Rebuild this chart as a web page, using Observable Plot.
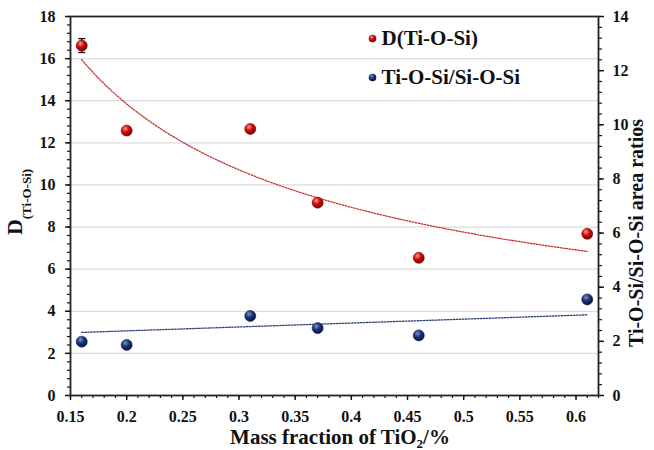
<!DOCTYPE html>
<html>
<head>
<meta charset="utf-8">
<script src="https://cdn.jsdelivr.net/npm/d3@7"></script>
<script src="https://cdn.jsdelivr.net/npm/@observablehq/plot@0.6"></script>
<style>
  html, body { margin: 0; padding: 0; background: #fff; }
  #chart { width: 654px; height: 450px; }
  #chart svg text, #chart svg tspan { font-family: 'Liberation Serif', 'Times New Roman', serif !important; font-weight: bold !important; }
</style>
</head>
<body>
<div id="chart"></div>
<script>
// ---- data ----
const massFraction = [0.16, 0.2, 0.31, 0.37, 0.46, 0.61];
const dTiOSi = [16.62, 12.58, 12.66, 9.16, 6.54, 7.68];
const dTiOSiErr = [0.33, 0, 0, 0, 0, 0];
const areaRatio = [1.99, 1.87, 2.94, 2.49, 2.22, 3.55];
const ratioTrendX = [0.16, 0.61];
const ratioTrendY = [2.33, 2.98];
const xTicks = [0.15, 0.2, 0.25, 0.3, 0.35, 0.4, 0.45, 0.5, 0.55, 0.6];
const leftTicks = [0, 2, 4, 6, 8, 10, 12, 14, 16, 18];
const rightTicks = [0, 2, 4, 6, 8, 10, 12, 14];
const seriesNames = ["D(Ti-O-Si)", "Ti-O-Si/Si-O-Si"];

const LEFT_MAX = 18, RIGHT_MAX = 14;
const toLeft = v => v * LEFT_MAX / RIGHT_MAX;

const dRows = massFraction.map((x, i) => ({x, y: dTiOSi[i], e: dTiOSiErr[i]}));
const rRows = massFraction.map((x, i) => ({x, y: toLeft(areaRatio[i])}));
const errRows = dRows.filter(d => d.e > 0);

// power-law trendline (least squares on log-log) fitted to D data
const lx = massFraction.map(Math.log), ly = dTiOSi.map(Math.log);
const mx = d3.mean(lx), my = d3.mean(ly);
const b = d3.sum(lx.map((v, i) => (v - mx) * (ly[i] - my))) / d3.sum(lx.map(v => (v - mx) ** 2));
const a = Math.exp(my - b * mx);
const xMin = d3.min(massFraction), xMax = d3.max(massFraction);
const dTrend = d3.range(0, 81).map(i => {
  const x = xMin + (xMax - xMin) * i / 80;
  return {x, y: a * Math.pow(x, b)};
});
const rTrend = ratioTrendX.map((x, i) => ({x, y: toLeft(ratioTrendY[i])}));

const xMinor = d3.range(15, 63).map(i => i / 100);
const yMinor = d3.range(0, 46).map(i => i * 0.4);
const rMinor = d3.range(0, 36).map(i => toLeft(i * 0.4));

const capSymbol = {draw(ctx) { ctx.moveTo(-3.5, 0); ctx.lineTo(3.5, 0); }};
const font = "Liberation Serif";
const tf = {fontFamily: font, fontWeight: "bold", fontSize: 16, fill: "#111"};

const chart = Plot.plot({
  width: 654,
  height: 450,
  marginLeft: 70,
  marginRight: 56,
  marginTop: 16,
  marginBottom: 55,
  style: {fontFamily: font, fontWeight: "bold", fontSize: "16px", color: "#111", background: "#fff"},
  x: {domain: [0.15, 0.62]},
  y: {domain: [0, 18]},
  marks: [
    Plot.gridY(leftTicks.filter(v => v > 0 && v < 18), {stroke: "#dcdcdc", strokeOpacity: 1, strokeWidth: 1.2}),
    // trendlines
    Plot.line(dTrend, {x: "x", y: "y", stroke: "#c83232", strokeWidth: 1.3, strokeDasharray: "1.5,1.5", curve: "linear"}),
    Plot.line(rTrend, {x: "x", y: "y", stroke: "#2a3a78", strokeWidth: 1.3, strokeDasharray: "1.5,1.5"}),
    // minor ticks
    Plot.axisX(xMinor, {tickSize: 3, tickFormat: () => "", label: null, strokeWidth: 1.2}),
    Plot.axisY(yMinor, {anchor: "left", tickSize: 3, tickFormat: () => "", label: null, strokeWidth: 1.2}),
    Plot.axisY(rMinor, {anchor: "right", tickSize: 3, tickFormat: () => "", label: null, strokeWidth: 1.2}),
    // major ticks + labels
    Plot.axisX(xTicks, {...tf, tickSize: 5, tickPadding: 10, label: null, strokeWidth: 1.4, tickFormat: d => String(+d.toFixed(2))}),
    Plot.axisY(leftTicks, {...tf, anchor: "left", tickSize: 5, tickPadding: 10, label: null, strokeWidth: 1.4}),
    Plot.axisY(rightTicks.map(toLeft), {...tf, anchor: "right", tickSize: 5, tickPadding: 9, label: null, strokeWidth: 1.4,
      tickFormat: d => String(Math.round(d * RIGHT_MAX / LEFT_MAX))}),
    Plot.frame({stroke: "#222", strokeWidth: 1.8}),
    // error bar
    Plot.ruleX(errRows, {x: "x", y1: d => d.y - d.e, y2: d => d.y + d.e, stroke: "#111", strokeWidth: 1.3}),
    Plot.dot(errRows, {x: "x", y: d => d.y - d.e, symbol: capSymbol, stroke: "#111", strokeWidth: 1.3, r: 3}),
    Plot.dot(errRows, {x: "x", y: d => d.y + d.e, symbol: capSymbol, stroke: "#111", strokeWidth: 1.3, r: 3}),
    // data points
    Plot.dot(dRows, {x: "x", y: "y", r: 5.5, fill: "url(#gRed)", stroke: "#7a0000", strokeWidth: 0.6}),
    Plot.dot(rRows, {x: "x", y: "y", r: 5.5, fill: "url(#gBlue)", stroke: "#0a1840", strokeWidth: 0.6}),
    // legend
    Plot.dot([seriesNames[0]], {frameAnchor: "top-left", dx: 302, dy: 22, r: 3.8, fill: "url(#gRed)"}),
    Plot.dot([seriesNames[1]], {frameAnchor: "top-left", dx: 302, dy: 61, r: 3.8, fill: "url(#gBlue)"}),
    Plot.text([seriesNames[0]], {...tf, text: d => d, frameAnchor: "top-left", lineAnchor: "middle", dx: 311, dy: 22, textAnchor: "start", fontSize: 21}),
    Plot.text([seriesNames[1]], {...tf, text: d => d, frameAnchor: "top-left", lineAnchor: "middle", dx: 311, dy: 61, textAnchor: "start", fontSize: 21})
  ]
});

const svg = d3.select(chart);
const defs = svg.insert("defs", ":first-child");
function grad(id, light, mid, dark) {
  const g = defs.append("radialGradient").attr("id", id).attr("cx", "38%").attr("cy", "32%").attr("r", "70%");
  g.append("stop").attr("offset", "0%").attr("stop-color", light);
  g.append("stop").attr("offset", "45%").attr("stop-color", mid);
  g.append("stop").attr("offset", "100%").attr("stop-color", dark);
}
grad("gRed", "#ff9a8a", "#d40c0c", "#6e0000");
grad("gBlue", "#7f95c8", "#1c3580", "#08123a");

// axis titles
svg.append("text")
  .attr("x", 340).attr("y", 444)
  .attr("text-anchor", "middle")
  .attr("font-family", font).attr("font-weight", "bold")
  .attr("font-size", 21).attr("fill", "#111")
  .call(t => {
    t.append("tspan").text("Mass fraction of TiO");
    t.append("tspan").attr("font-size", 13).attr("dy", 4).text("2");
    t.append("tspan").attr("dy", -4).text("/%");
  });

svg.append("text")
  .attr("transform", "translate(22,202) rotate(-90)")
  .attr("text-anchor", "middle")
  .attr("font-family", font).attr("font-weight", "bold")
  .attr("font-size", 22).attr("fill", "#111")
  .call(t => {
    t.append("tspan").text("D");
    t.append("tspan").attr("font-size", 13).attr("dy", 9).text("(Ti-O-Si)");
  });

svg.append("text")
  .attr("transform", "translate(643,233) rotate(-90)")
  .attr("text-anchor", "middle")
  .attr("font-family", font).attr("font-weight", "bold")
  .attr("font-size", 20).attr("fill", "#111")
  .text("Ti-O-Si/Si-O-Si area ratios");

document.getElementById("chart").appendChild(chart);
</script>
</body>
</html>
